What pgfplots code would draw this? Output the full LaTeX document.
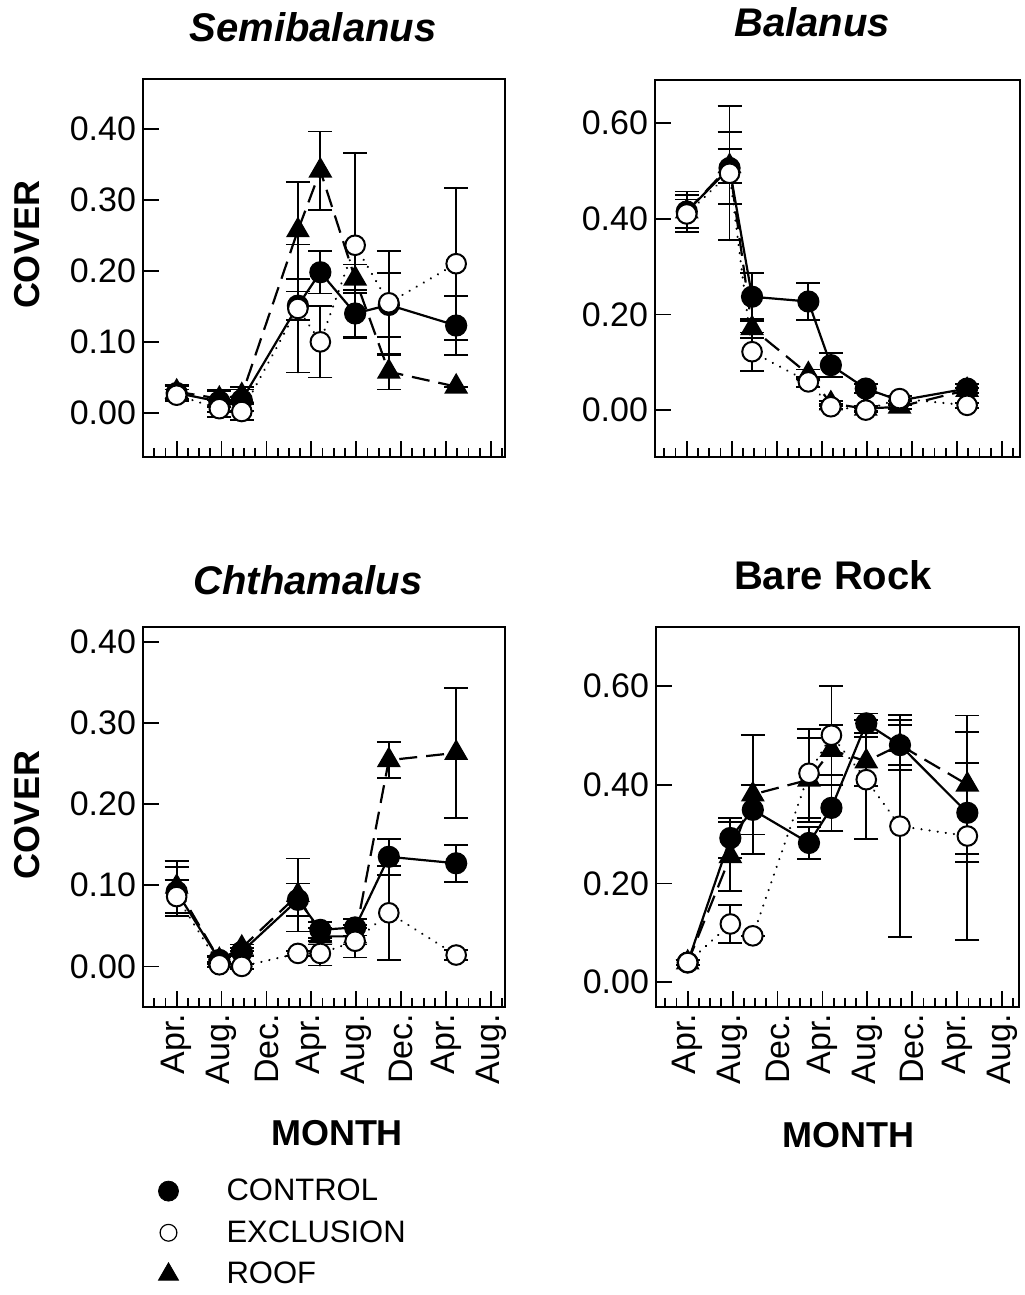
\documentclass[border=0pt]{standalone}
\usepackage{fontspec}
\setmainfont{Liberation Sans}
\usepackage{pgfplots}
\usepackage{pgfplotstable}
\pgfplotsset{compat=1.18}

% ---------------- data: x (month index, Jan yr1 = 0), y, error ----------------
\pgfplotstableread{
x y e
3 0.028 0.010
6.8 0.016 0.015
8.8 0.018 0.015
13.8 0.151 0.020
15.8 0.198 0.030
18.9 0.140 0.033
21.9 0.152 0.045
27.9 0.123 0.042
}\SemiCtrl
\pgfplotstableread{
x y e
3 0.025 0.008
6.8 0.006 0.012
8.8 0.002 0.012
13.8 0.147 0.090
15.8 0.100 0.050
18.9 0.236 0.130
21.9 0.155 0.073
27.9 0.210 0.107
}\SemiExcl
\pgfplotstableread{
x y e
3 0.030 0.010
6.8 0.020 0.012
8.8 0.025 0.012
13.8 0.257 0.068
15.8 0.341 0.055
18.9 0.189 0.020
21.9 0.058 0.025
27.9 0.037 0.000
}\SemiRoof

\pgfplotstableread{
x y e
3 0.415 0.042
6.8 0.506 0.075
8.8 0.237 0.050
13.8 0.227 0.038
15.8 0.094 0.025
18.9 0.045 0.010
21.9 0.020 0.010
27.9 0.045 0.010
}\BalCtrl
\pgfplotstableread{
x y e
3 0.410 0.030
6.8 0.495 0.140
8.8 0.122 0.040
13.8 0.059 0.010
15.8 0.007 0.005
18.9 0.000 0.005
21.9 0.024 0.005
27.9 0.010 0.005
}\BalExcl
\pgfplotstableread{
x y e
3 0.415 0.035
6.8 0.510 0.035
8.8 0.171 0.020
13.8 0.075 0.010
15.8 0.014 0.005
18.9 0.003 0.005
21.9 0.007 0.005
27.9 0.042 0.005
}\BalRoof

\pgfplotstableread{
x y e
3 0.092 0.030
6.8 0.008 0.005
8.8 0.018 0.005
13.8 0.082 0.020
15.8 0.045 0.010
18.9 0.048 0.010
21.9 0.135 0.022
27.9 0.127 0.023
}\ChtCtrl
\pgfplotstableread{
x y e
3 0.086 0.020
6.8 0.002 0.003
8.8 0.000 0.003
13.8 0.016 0.003
15.8 0.016 0.015
18.9 0.031 0.020
21.9 0.066 0.058
27.9 0.014 0.006
}\ChtExcl
\pgfplotstableread{
x y e
3 0.098 0.032
6.8 0.008 0.004
8.8 0.023 0.004
13.8 0.088 0.045
15.8 0.037 0.010
18.9 0.037 0.010
21.9 0.254 0.022
27.9 0.263 0.080
}\ChtRoof

\pgfplotstableread{
x y e
3 0.040 0.005
6.8 0.292 0.040
8.8 0.349 0.050
13.8 0.282 0.033
15.8 0.353 0.047
18.9 0.524 0.020
21.9 0.480 0.050
27.9 0.343 0.100
}\BareCtrl
\pgfplotstableread{
x y e
3 0.040 0.005
6.8 0.118 0.038
8.8 0.094 0.000
13.8 0.423 0.090
15.8 0.500 0.100
18.9 0.410 0.120
21.9 0.316 0.225
27.9 0.296 0.210
}\BareExcl
\pgfplotstableread{
x y e
3 0.040 0.005
6.8 0.255 0.070
8.8 0.380 0.120
13.8 0.410 0.085
15.8 0.470 0.050
18.9 0.447 0.050
21.9 0.480 0.040
27.9 0.400 0.140
}\BareRoof

\pgfplotsset{
  panel/.style={
    scale only axis,
    axis line style={line width=1pt},
    xtick={3,7,...,31},
    minor xtick={0,...,32},
    xtick pos=bottom, ytick pos=left,
    tick align=inside,
    major tick length=8pt, minor tick length=4.5pt,
    every tick/.style={black, line width=0.9pt},
    /pgf/number format/assume math mode=true,
    yticklabel style={/pgf/number format/fixed, /pgf/number format/fixed zerofill,
      /pgf/number format/precision=2, font=\fontsize{17}{19}\selectfont},
    xticklabel style={rotate=90, anchor=east, font=\fontsize{17}{19}\selectfont},
    clip=false,
  },
  notick/.style={xticklabels={}},
  monthticks/.style={xticklabels={Apr.,Aug.,Dec.,Apr.,Aug.,Dec.,Apr.,Aug.}},
  ebar/.style={
    error bars/y dir=both, error bars/y explicit,
    error bars/error bar style={solid, line width=0.9pt},
    error bars/error mark options={solid, rotate=90, mark size=6pt, line width=0.9pt},
  },
  ctrl/.style={black, line width=1.1pt, mark=*, mark size=5pt,
    mark options={solid, fill=black}, ebar},
  excl/.style={black, line width=1.1pt, line cap=round, dash pattern=on 0.1pt off 4pt,
    mark=*, mark size=4.9pt, mark options={solid, fill=white, draw=black, line width=1pt}, ebar},
  roof/.style={black, line width=1.1pt, dash pattern=on 9pt off 4.5pt,
    mark=triangle*, mark size=5.8pt, mark options={solid, fill=black}, ebar},
}

\begin{document}
\begin{tikzpicture}
\useasboundingbox (0,0) rectangle (512pt,647.5pt);

% ---- Semibalanus (top left) ----
\begin{axis}[panel, notick, at={(71.5pt,419pt)}, anchor=south west,
  width=181pt, height=189pt, xmin=0, xmax=32.25,
  ymin=-0.062, ymax=0.47, ytick={0,0.1,0.2,0.3,0.4}]
\addplot[ctrl] table[x=x,y=y,y error=e] {\SemiCtrl};
\addplot[roof] table[x=x,y=y,y error=e] {\SemiRoof};
\addplot[excl] table[x=x,y=y,y error=e] {\SemiExcl};
\end{axis}

% ---- Balanus (top right) ----
\begin{axis}[panel, notick, at={(327.5pt,419pt)}, anchor=south west,
  width=182.5pt, height=188.5pt, xmin=0.18, xmax=32.6,
  ymin=-0.098, ymax=0.69, ytick={0,0.2,0.4,0.6}]
\addplot[ctrl] table[x=x,y=y,y error=e] {\BalCtrl};
\addplot[roof] table[x=x,y=y,y error=e] {\BalRoof};
\addplot[excl] table[x=x,y=y,y error=e] {\BalExcl};
\end{axis}

% ---- Chthamalus (bottom left) ----
\begin{axis}[panel, monthticks, at={(71.5pt,144pt)}, anchor=south west,
  width=181pt, height=190pt, xmin=0, xmax=32.25,
  ymin=-0.05, ymax=0.418, ytick={0,0.1,0.2,0.3,0.4},
  legend style={draw=none, fill=none, at={(axis description cs:0.025,-0.43)},
    anchor=north west, font=\fontsize{15.5}{18}\selectfont, row sep=4.5pt,
    /tikz/every odd column/.append style={column sep=22pt}},
  legend cell align=left]
\addplot[ctrl, forget plot] table[x=x,y=y,y error=e] {\ChtCtrl};
\addplot[roof, forget plot] table[x=x,y=y,y error=e] {\ChtRoof};
\addplot[excl, forget plot] table[x=x,y=y,y error=e] {\ChtExcl};
\addlegendimage{only marks, mark=*, mark size=5pt, fill=black, draw=black}
\addlegendentry{CONTROL}
\addlegendimage{only marks, mark=*, mark size=4.2pt, fill=white, draw=black, line width=0.6pt}
\addlegendentry{EXCLUSION}
\addlegendimage{only marks, mark=triangle*, mark size=5.8pt, fill=black, draw=black}
\addlegendentry{ROOF}
\end{axis}

% ---- Bare Rock (bottom right) ----
\begin{axis}[panel, monthticks, at={(328pt,144pt)}, anchor=south west,
  width=181.5pt, height=190pt, xmin=0.18, xmax=32.5,
  ymin=-0.05, ymax=0.719, ytick={0,0.2,0.4,0.6}]
\addplot[ctrl] table[x=x,y=y,y error=e] {\BareCtrl};
\addplot[roof] table[x=x,y=y,y error=e] {\BareRoof};
\addplot[excl] table[x=x,y=y,y error=e] {\BareExcl};
\end{axis}

% ---- titles and labels ----
\node[anchor=base, font=\fontsize{20}{24}\selectfont\bfseries\itshape] at (156.5pt,626.5pt) {Semibalanus};
\node[anchor=base, font=\fontsize{20}{24}\selectfont\bfseries\itshape] at (406pt,629pt) {Balanus};
\node[anchor=base, font=\fontsize{20}{24}\selectfont\bfseries\itshape] at (154pt,350pt) {Chthamalus};
\node[anchor=base, font=\fontsize{20}{24}\selectfont\bfseries] at (416.5pt,352.5pt) {Bare Rock};
\node[rotate=90, font=\fontsize{18}{22}\selectfont\bfseries] at (13.5pt,525pt) {COVER};
\node[rotate=90, font=\fontsize{18}{22}\selectfont\bfseries] at (13.5pt,240pt) {COVER};
\node[font=\fontsize{18}{22}\selectfont\bfseries] at (168.5pt,81pt) {MONTH};
\node[font=\fontsize{18}{22}\selectfont\bfseries] at (424pt,80pt) {MONTH};
\end{tikzpicture}
\end{document}
